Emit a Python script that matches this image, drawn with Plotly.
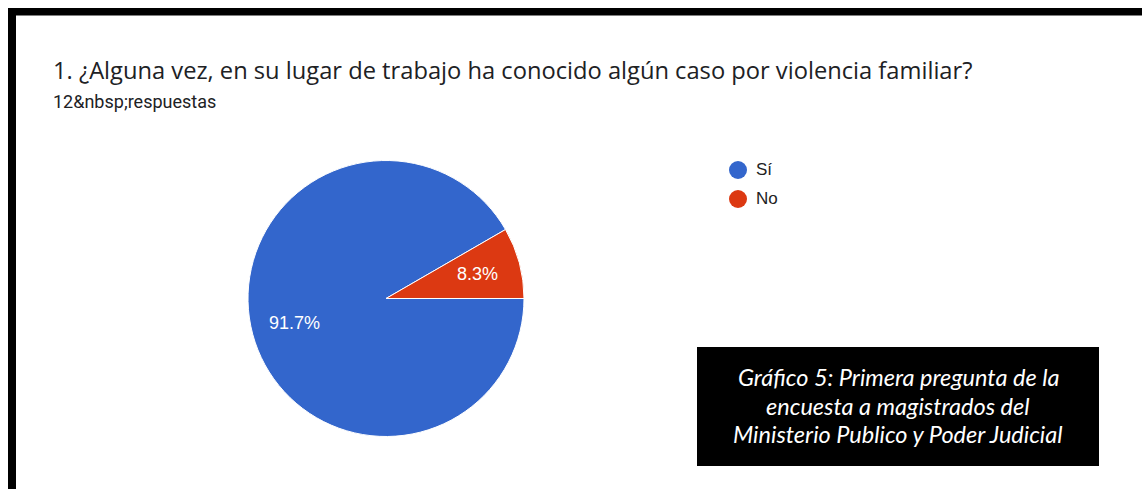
import math
import plotly.graph_objects as go

# Survey answers (12 responses)
labels = ["Sí", "No"]
counts = [11, 1]
colors = ["#3366cc", "#dc3912"]

title_text = "1. ¿Alguna vez, en su lugar de trabajo ha conocido algún caso por violencia familiar?"
subtitle_text = "12&amp;nbsp;respuestas"
caption_lines = [
    "Gráfico 5: Primera pregunta de la",
    "encuesta a magistrados del",
    "Ministerio Publico y Poder Judicial",
]

W, H = 1142, 489


def px(x):
    return x / W


def py(y):
    return 1 - y / H


fig = go.Figure()

# pie centred at (386, 298.5) px with a 138 px radius, first slice starting at 3 o'clock
cx, cy, r = 386, 298.5, 138
start_deg = 0  # math angle of 3 o'clock
fig.add_trace(go.Pie(
    labels=labels,
    values=counts,
    sort=False,
    direction="clockwise",
    rotation=90,
    marker=dict(colors=colors, line=dict(color="white", width=1)),
    textinfo="none",
    domain=dict(x=[px(cx - r), px(cx + r)], y=[py(cy + r), py(cy - r)]),
    showlegend=False,
    hoverinfo="label+percent",
))

shapes = [
    # frame bars
    dict(type="rect", xref="paper", yref="paper", x0=px(8), x1=1, y0=py(15.5), y1=py(8),
         fillcolor="black", line=dict(width=0), layer="above"),
    dict(type="rect", xref="paper", yref="paper", x0=px(8), x1=px(16), y0=0, y1=py(8),
         fillcolor="black", line=dict(width=0), layer="above"),
    # caption box
    dict(type="rect", xref="paper", yref="paper", x0=px(697), x1=px(1099), y0=py(466), y1=py(347),
         fillcolor="black", line=dict(width=0), layer="above"),
]

annotations = [
    dict(text=title_text, x=px(51), y=py(70), xref="paper", yref="paper",
         xanchor="left", yanchor="middle", showarrow=False,
         font=dict(family="Open Sans", size=23.7, color="#202124")),
    dict(text=subtitle_text, x=px(51), y=py(101), xref="paper", yref="paper",
         xanchor="left", yanchor="middle", showarrow=False,
         font=dict(family="Roboto", size=18, color="#202124")),
]

# percentage labels placed inside each slice, at ~0.69 of the radius
total = sum(counts)
acc = 0
for val in counts:
    mid = start_deg - 360 * (acc + val / 2) / total
    acc += val
    a = math.radians(mid)
    lx = cx + 0.69 * r * math.cos(a)
    ly = cy - 0.69 * r * math.sin(a)
    annotations.append(dict(text=f"{100 * val / total:.1f}%", x=px(lx), y=py(ly),
                            xref="paper", yref="paper", xanchor="center", yanchor="middle",
                            showarrow=False,
                            font=dict(family="Liberation Sans", size=18, color="white")))

# legend: coloured dots with labels
for i, (lab, col) in enumerate(zip(labels, colors)):
    yc = 170 + i * 29
    shapes.append(dict(type="circle", xref="paper", yref="paper",
                       x0=px(729), x1=px(747), y0=py(yc + 9), y1=py(yc - 9),
                       fillcolor=col, line=dict(width=0)))
    annotations.append(dict(text=lab, x=px(754), y=py(yc), xref="paper", yref="paper",
                            xanchor="left", yanchor="middle", showarrow=False,
                            font=dict(family="Liberation Sans", size=17, color="#222222")))

for i, line in enumerate(caption_lines):
    annotations.append(dict(text=f"<i>{line}</i>", x=px(898), y=py(377 + i * 28.5),
                            xref="paper", yref="paper", xanchor="center", yanchor="middle",
                            showarrow=False,
                            font=dict(family="Lato", size=23.5, color="white")))

fig.update_layout(
    width=W, height=H,
    margin=dict(l=0, r=0, t=0, b=0),
    paper_bgcolor="white",
    plot_bgcolor="white",
    shapes=shapes,
    annotations=annotations,
)

fig.write_html("out.html")
